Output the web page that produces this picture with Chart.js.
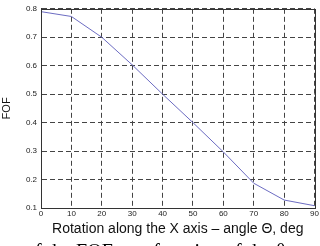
<!DOCTYPE html>
<html lang="en">
<head>
    <meta charset="UTF-8">
    <title>FOF vs rotation angle</title>
    <script src="https://cdn.jsdelivr.net/npm/chart.js@4.4.1/dist/chart.umd.min.js"></script>
    <style>
        body {
            margin: 0;
            padding: 0;
            background: #ffffff;
            width: 320px;
            height: 246px;
            overflow: hidden;
            position: relative;
        }

        #chart {
            position: absolute;
            left: 0;
            top: 0;
        }

        .caption {
            position: absolute;
            left: 25px;
            top: 241px;
            font-family: 'Liberation Serif', serif;
            font-size: 20px;
            line-height: 20px;
            color: #000;
            white-space: nowrap;
        }
    </style>
</head>
<body>

<canvas id="chart" width="320" height="246"></canvas>
<div class="caption">of the FOF as a function of the θ</div>

<script>
    // values, one per 10 deg
    var angles = [0, 10, 20, 30, 40, 50, 60, 70, 80, 90];
    var fof = [0.79, 0.773, 0.70, 0.603, 0.50, 0.40, 0.297, 0.187, 0.128, 0.108];

    var xTitle = 'Rotation along the X axis \u2013 angle \u0398, deg';
    var yTitle = 'FOF';

    var points = [];
    for (var i = 0; i < angles.length; i++) {
        points.push({ x: angles[i], y: fof[i] });
    }

    // solid box round the plot, like the matlab axes
    var boxPlugin = {
        id: 'box',
        afterDraw: function (chart) {
            var a = chart.chartArea;
            var ctx = chart.ctx;
            ctx.save();
            ctx.setLineDash([]);
            ctx.strokeStyle = '#333';
            ctx.lineWidth = 1;
            ctx.strokeRect(Math.round(a.left) + 0.5, Math.round(a.top) + 0.5,
                Math.round(a.right - a.left), Math.round(a.bottom - a.top));
            ctx.restore();
        }
    };

    var tickFont = { family: "'Liberation Sans', Arial, sans-serif", size: 8 };
    var gridStyle = {
        color: '#444',
        lineWidth: 1,
        drawTicks: false
    };

    new Chart(document.getElementById('chart').getContext('2d'), {
        type: 'line',
        data: {
            datasets: [{
                data: points,
                borderColor: '#6c6cc2',
                borderWidth: 1,
                pointRadius: 0,
                tension: 0,
                fill: false
            }]
        },
        options: {
            responsive: false,
            animation: false,
            layout: { padding: { left: 0, right: 4, top: 6, bottom: 0 } },
            plugins: {
                legend: { display: false },
                tooltip: { enabled: false }
            },
            scales: {
                x: {
                    type: 'linear',
                    min: 0,
                    max: 90,
                    afterFit: function (scale) { scale.height = 38; },
                    ticks: { stepSize: 10, padding: 1, color: '#222', font: tickFont, maxRotation: 0 },
                    grid: gridStyle,
                    border: { display: true, color: '#333', dash: [5, 3] },
                    title: {
                        display: true,
                        text: xTitle,
                        color: '#111',
                        font: { family: "'Liberation Sans', Arial, sans-serif", size: 14 },
                        padding: { top: 0, bottom: 8 }
                    }
                },
                y: {
                    min: 0.1,
                    max: 0.8,
                    afterFit: function (scale) { scale.width = 41; },
                    ticks: {
                        stepSize: 0.1,
                        padding: 4,
                        color: '#222',
                        font: tickFont,
                        callback: function (v) { return v.toFixed(1); }
                    },
                    grid: gridStyle,
                    border: { display: true, color: '#333', dash: [5, 3] },
                    title: {
                        display: true,
                        text: yTitle,
                        color: '#111',
                        font: { family: "'Liberation Sans', Arial, sans-serif", size: 11 },
                        padding: 0
                    }
                }
            }
        },
        plugins: [boxPlugin]
    });
</script>
</body>
</html>
